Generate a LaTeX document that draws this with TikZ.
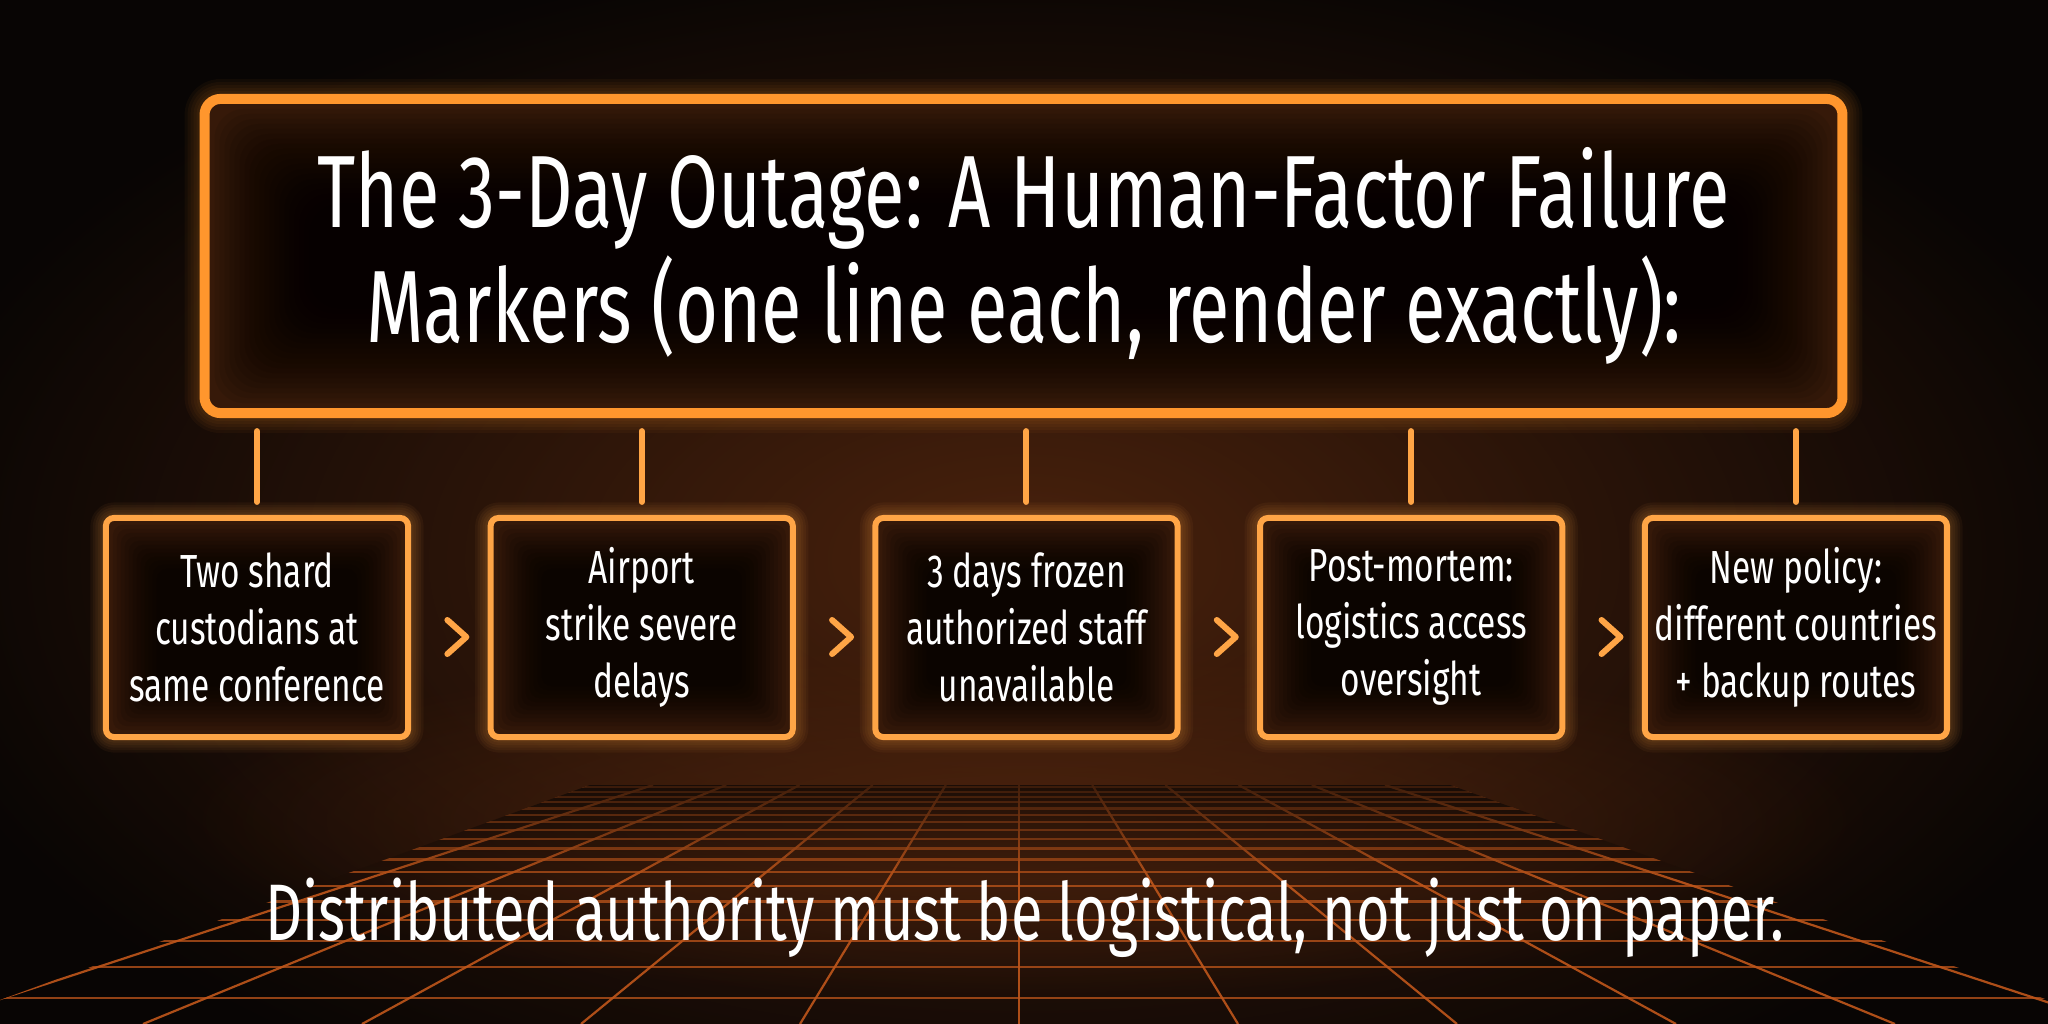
\documentclass[tikz,border=0pt]{standalone}
\usepackage{fontspec}
\setmainfont{Fira Sans}[FakeStretch=0.72]
\usetikzlibrary{calc,positioning,backgrounds,fadings}

\definecolor{neon}{HTML}{FF962D}
\definecolor{neonsoft}{HTML}{FFA546}
\definecolor{bgdark}{HTML}{080504}
\definecolor{ember}{HTML}{4A220D}
\definecolor{panel}{HTML}{361909}
\definecolor{gridline}{HTML}{BF561B}

\tikzfading[name=glowfade, inner color=transparent!0, outer color=transparent!100]
\tikzfading[name=topfade, top color=transparent!30, bottom color=transparent!100]

\begin{document}
\begin{tikzpicture}[x=0.01cm, y=-0.01cm,
		titlebox/.style={draw=neon, line width=0.1cm, rounded corners=0.16cm, outer sep=0pt, minimum width=16.37cm, minimum height=3.14cm, text=white, align=center, font=\fontsize{29.2}{32.7}\selectfont},
		stepbox/.style={draw=neonsoft, line width=0.06cm, rounded corners=0.08cm, outer sep=0pt, inner sep=0pt, minimum width=3.02cm, minimum height=2.19cm, text=white, align=center, font=\fontsize{13.2}{16.2}\selectfont},
		link/.style={draw=neonsoft, line width=0.06cm, line cap=round, shorten <=0.18cm, shorten >=0.16cm},
		chevron/.style={draw=neonsoft, line width=0.06cm, line cap=round, line join=round},
		lesson/.style={text=white, font=\fontsize{22.8}{26}\selectfont}]
	\useasboundingbox (0,0) rectangle (2048,1024);

	% header and the five markers
	\node[titlebox] (title) at (1023.5,256) {The 3-Day Outage: A Human-Factor Failure\\Markers (one line each, render exactly):};
	\node[stepbox] (s1) at (257,627.5) {Two shard\\custodians at\\same conference};
	\node[stepbox, right=0.825cm of s1] (s2) {Airport\\strike severe\\delays};
	\node[stepbox, right=0.825cm of s2] (s3) {3 days frozen\\authorized staff\\unavailable};
	\node[stepbox, right=0.825cm of s3] (s4) {Post-mortem:\\logistics access\\oversight};
	\node[stepbox, right=0.825cm of s4] (s5) {New policy:\\different countries\\+ backup routes};
	\node[lesson, anchor=base] (motto) at (1025,940) {Distributed authority must be logistical, not just on paper.};

	\foreach \n in {1,...,5}
		\draw[link] (s\n.north |- title.south) -- (s\n.north);
	\foreach \a/\b in {s1/s2,s2/s3,s3/s4,s4/s5} {
		\path (\a.east) -- (\b.west) coordinate[midway] (m\a);
		\draw[chevron] ($(m\a)+(-2,-7.5)$) -- ($(m\a)+(17,9.5)$) -- ($(m\a)+(-2,26.5)$);
	}

	\begin{scope}[on background layer]
		% backdrop
		\fill[bgdark] (0,0) rectangle (2048,1024);
		\fill[ember, path fading=glowfade] (1024,560) ellipse [x radius=1150, y radius=620];
		\fill[ember, path fading=glowfade] (1024,820) ellipse [x radius=850, y radius=180];
		% floor grid
		\begin{scope}
			\clip (590,785) -- (1450,785) -- (2048,1000) -- (2048,1024) -- (0,1024) -- (0,1000) -- cycle;
			\foreach \j in {0,...,18} {
				\pgfmathsetmacro{\gy}{665+1/(0.0082-0.00031*\j)}
				\draw[gridline, line width=0.022cm, opacity=0.75] (0,\gy) -- (2048,\gy);
			}
			\foreach \i in {-7,...,7} {
				\pgfmathsetmacro{\xtop}{1019+73.2*\i}
				\pgfmathsetmacro{\xbot}{1019+219*\i}
				\draw[gridline, line width=0.022cm, opacity=0.9] (\xtop,785) -- (\xbot,1024);
			}
			\fill[bgdark, path fading=topfade] (0,780) rectangle (2048,880);
		\end{scope}
		% header panel
		\foreach \k in {1,...,5} {
			\pgfmathsetmacro{\lw}{10+6*\k}
			\draw[neon, opacity=0.045, line width=\lw*0.01cm, line join=round, rounded corners=0.16cm] (title.north west) rectangle (title.south east);
		}
		\fill[panel, rounded corners=0.16cm] (title.north west) rectangle (title.south east);
		\foreach \k in {1,...,20} {
			\pgfmathsetmacro{\inset}{5+5*\k}
			\fill[black, opacity=0.08, rounded corners=0.3cm] ([shift={(\inset,\inset)}]title.north west) rectangle ([shift={(-\inset,-\inset)}]title.south east);
		}
		% marker panels
		\foreach \n in {1,...,5} {
			\foreach \k in {1,...,5} {
				\pgfmathsetmacro{\lw}{6+5*\k}
				\draw[neonsoft, opacity=0.05, line width=\lw*0.01cm, line join=round, rounded corners=0.08cm] (s\n.north west) rectangle (s\n.south east);
			}
			\fill[panel, rounded corners=0.08cm] (s\n.north west) rectangle (s\n.south east);
			\foreach \k in {1,...,12} {
				\pgfmathsetmacro{\inset}{3+4*\k}
				\fill[black, opacity=0.1, rounded corners=0.1cm] ([shift={(\inset,\inset)}]s\n.north west) rectangle ([shift={(-\inset,-\inset)}]s\n.south east);
			}
		}
	\end{scope}
\end{tikzpicture}
\end{document}
